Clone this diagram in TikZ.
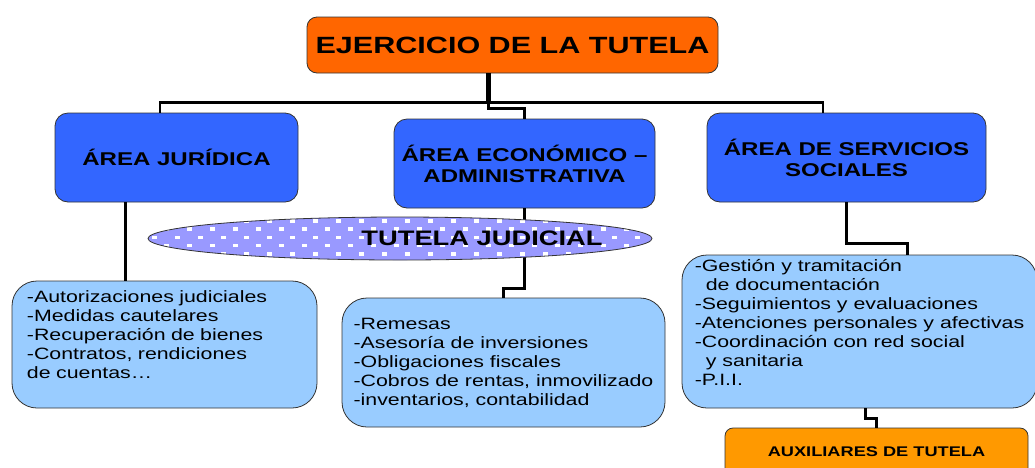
\documentclass[tikz,border=0pt]{standalone}
\usepackage{fontspec}
\setmainfont{Liberation Sans}[FakeStretch=1.3]
\usetikzlibrary{shapes.geometric}

\definecolor{tutelaorange}{RGB}{255,102,0}
\definecolor{auxorange}{RGB}{255,153,0}
\definecolor{areablue}{RGB}{51,102,255}
\definecolor{listblue}{RGB}{153,204,255}
\definecolor{judlavender}{RGB}{153,153,255}

\begin{document}
\begin{tikzpicture}[x=1pt,y=-1pt,
    box/.style={draw=black!80, line width=0.8pt, inner sep=0pt},
    areabox/.style={box, fill=areablue, rounded corners=13pt, align=center,
      font=\bfseries\fontsize{18.5}{21}\selectfont},
    listbox/.style={box, fill=listblue, rounded corners=25pt, align=left,
      font=\fontsize{16.4}{19}\selectfont},
    link/.style={line width=3pt}]
  \useasboundingbox (0,0) rectangle (1035,467);

  % title and the three areas
  \node[box, fill=tutelaorange, rounded corners=10pt, minimum width=411pt, minimum height=56pt,
    font=\bfseries\fontsize{23.5}{28}\selectfont] (top) at (512.5,45) {EJERCICIO DE LA TUTELA};
  \node[areabox, minimum width=243pt, minimum height=89pt] (jur) at (176.5,157.5) {ÁREA JURÍDICA};
  \node[areabox, minimum width=261pt, minimum height=89pt] (eco) at (524.5,163.5) {ÁREA ECONÓMICO –\\ADMINISTRATIVA};
  \node[areabox, minimum width=279pt, minimum height=89pt] (soc) at (846.5,157.5) {ÁREA DE SERVICIOS\\SOCIALES};

  % what each area does
  \node[listbox, minimum width=305pt, minimum height=127pt, text width=275pt] (jurlist) at (164.5,344.5)
    {-Autorizaciones judiciales\\-Medidas cautelares\\-Recuperación de bienes\\-Contratos, rendiciones\\de cuentas…\\ \mbox{}};
  \node[listbox, minimum width=323pt, minimum height=129pt] (ecolist) at (503.5,362.5)
    {-Remesas\\-Asesoría de inversiones\\-Obligaciones fiscales\\-Cobros de rentas, inmovilizado\\-inventarios, contabilidad};
  \node[listbox, minimum width=355pt, minimum height=153pt] (soclist) at (859.5,331.5)
    {-Gestión y tramitación\\\hspace*{11pt}de documentación\\-Seguimientos y evaluaciones\\-Atenciones personales y afectivas\\-Coordinación con red social\\\hspace*{11pt}y sanitaria\\-P.I.I.\\ \mbox{}};
  \node[box, fill=auxorange, rounded corners=8pt, minimum width=303pt, minimum height=48pt,
    font=\bfseries\fontsize{14}{17}\selectfont] (aux) at (876.5,452) {AUXILIARES DE TUTELA};

  % connectors
  \draw[line width=5pt] ([xshift=-24.5pt]top.south) -- ++(0,31) coordinate (hub);
  \draw[link] (hub) -- ++(0,4) -| (eco.north);
  \draw[line width=2.5pt] ([xshift=-16.5pt]jur.north) -- ++(0,-10) -| ([xshift=-23.5pt]soc.north);
  \draw[link] ([xshift=-51.5pt]jur.south) -- ([xshift=-51.5pt]jur.south |- jurlist.north);
  \draw[link] (eco.south) -- ++(0,80) -| (ecolist.north);
  \draw[link] (soc.south) -- ++(0,41) -| ([xshift=47.5pt]soclist.north);
  \draw[link] ([xshift=5.5pt]soclist.south) -- ++(0,10) -| (aux.north);

  % the dotted ellipse lies over the economic link
  \node[ellipse, draw=black!80, line width=0.8pt, fill=judlavender, inner sep=0pt,
    minimum width=504pt, minimum height=43pt, font=\bfseries\fontsize{21}{25}\selectfont,
    path picture={
      \foreach \r in {0,...,5}{
        \foreach \c in {0,...,22}{
          \fill[white] ([shift={({\c*23+mod(\r,2)*11.5+4},{\r*8.3+2})}]path picture bounding box.north west) rectangle ++(5,3.5);
        }
      }
    }] (tj) at (400,238.5) {\makebox[0pt]{\hspace*{164pt}TUTELA JUDICIAL}};
\end{tikzpicture}
\end{document}
